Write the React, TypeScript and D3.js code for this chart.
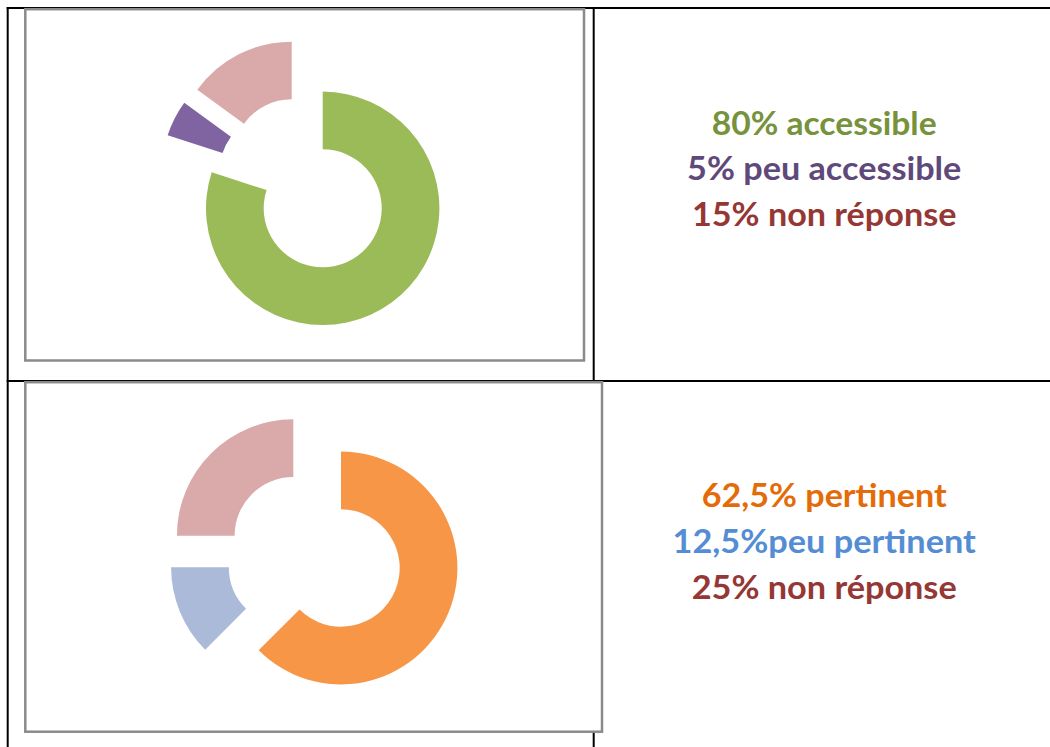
import React from "react";
import * as d3 from "d3";

// ---- data ----
const chart1Labels = ["accessible", "peu accessible", "non réponse"];
const chart1Values = [80, 5, 15];
const chart1Texts = ["80% accessible", "5% peu accessible", "15% non réponse"];

const chart2Labels = ["pertinent", "peu pertinent", "non réponse"];
const chart2Values = [62.5, 12.5, 25];
const chart2Texts = ["62,5% pertinent", "12,5%peu pertinent", "25% non réponse"];

// ---- styles ----
const chart1Colors = ["#9BBB59", "#8064A2", "#DAA9AA"];
const chart1TextColors = ["#76923C", "#5F497A", "#953735"];
const chart2Colors = ["#F79646", "#AABAD8", "#DAA9AA"];
const chart2TextColors = ["#E36C09", "#548DD4", "#953735"];

// explode offsets (style): [distance, direction deg clockwise from top]
const chart1Explode: [number, number][] = [[0, 0], [57.5, 310], [58.8, 328.2]];
const chart2Explode: [number, number][] = [[0, 0], [53.5, 270.7], [57.6, 304.1]];

const W = 1050;
const H = 747;

type Layout = {
  box: { x0: number; y0: number; x1: number; y1: number };
  cx: number;
  cy: number;
  R: number;
  r: number;
  textWidths: number[];
  baselines: number[];
};

const layout1: Layout = {
  box: { x0: 25.3, y0: 9.2, x1: 584, y1: 360.5 },
  cx: 322.7,
  cy: 208.3,
  R: 116.7,
  r: 59,
  textWidths: [225, 274.3, 264.4],
  baselines: [134.5, 180, 225.8],
};
const layout2: Layout = {
  box: { x0: 25.3, y0: 382.2, x1: 602, y1: 731.7 },
  cx: 341,
  cy: 568,
  R: 116.4,
  r: 58.7,
  textWidths: [245, 303.3, 265],
  baselines: [507.3, 553, 599],
};

const TEXT_CX = 824.2;

function Donut({
  values,
  labels,
  colors,
  explode,
  L,
}: {
  values: number[];
  labels: string[];
  colors: string[];
  explode: [number, number][];
  L: Layout;
}) {
  const pie = d3
    .pie<number>()
    .sort(null)
    .value((d) => d)
    .startAngle(0)
    .endAngle(2 * Math.PI);
  const arcs = pie(values);
  const arc = d3.arc<d3.PieArcDatum<number>>().innerRadius(L.r).outerRadius(L.R);
  return (
    <g>
      <rect
        x={L.box.x0}
        y={L.box.y0}
        width={L.box.x1 - L.box.x0}
        height={L.box.y1 - L.box.y0}
        fill="#ffffff"
        stroke="#8a8a8a"
        strokeWidth={2.5}
      />
      <g transform={`translate(${L.cx},${L.cy})`}>
        {arcs.map((a, i) => {
          const [dist, deg] = explode[i];
          const rad = (deg * Math.PI) / 180;
          const dx = dist * Math.sin(rad);
          const dy = -dist * Math.cos(rad);
          return (
            <path
              key={labels[i]}
              d={arc(a) || ""}
              fill={colors[i]}
              transform={`translate(${dx},${dy})`}
            />
          );
        })}
      </g>
    </g>
  );
}

function TextBlock({
  texts,
  colors,
  L,
}: {
  texts: string[];
  colors: string[];
  L: Layout;
}) {
  return (
    <g>
      {texts.map((t, i) => (
        <text
          key={t}
          x={TEXT_CX}
          y={L.baselines[i]}
          textAnchor="middle"
          fill={colors[i]}
          fontFamily="Lato, 'Open Sans', sans-serif"
          fontWeight="bold"
          fontSize={32}
          textLength={L.textWidths[i]}
          lengthAdjust="spacingAndGlyphs"
        >
          {t}
        </text>
      ))}
    </g>
  );
}

export default function App() {
  return (
    <svg
      width={W}
      height={H}
      viewBox={`0 0 ${W} ${H}`}
      style={{ position: "absolute", left: 0, top: 0, display: "block", background: "#fff" }}
    >
      <rect x={0} y={0} width={W} height={H} fill="#ffffff" />
      {/* table grid */}
      <g stroke="#000" strokeWidth={2}>
        <line x1={6.7} y1={8} x2={W} y2={8} />
        <line x1={6.7} y1={381} x2={W} y2={381} />
        <line x1={7.7} y1={7} x2={7.7} y2={H} />
        <line x1={593.7} y1={7} x2={593.7} y2={H} />
      </g>
      <Donut
        values={chart1Values}
        labels={chart1Labels}
        colors={chart1Colors}
        explode={chart1Explode}
        L={layout1}
      />
      <Donut
        values={chart2Values}
        labels={chart2Labels}
        colors={chart2Colors}
        explode={chart2Explode}
        L={layout2}
      />
      <TextBlock texts={chart1Texts} colors={chart1TextColors} L={layout1} />
      <TextBlock texts={chart2Texts} colors={chart2TextColors} L={layout2} />
    </svg>
  );
}
